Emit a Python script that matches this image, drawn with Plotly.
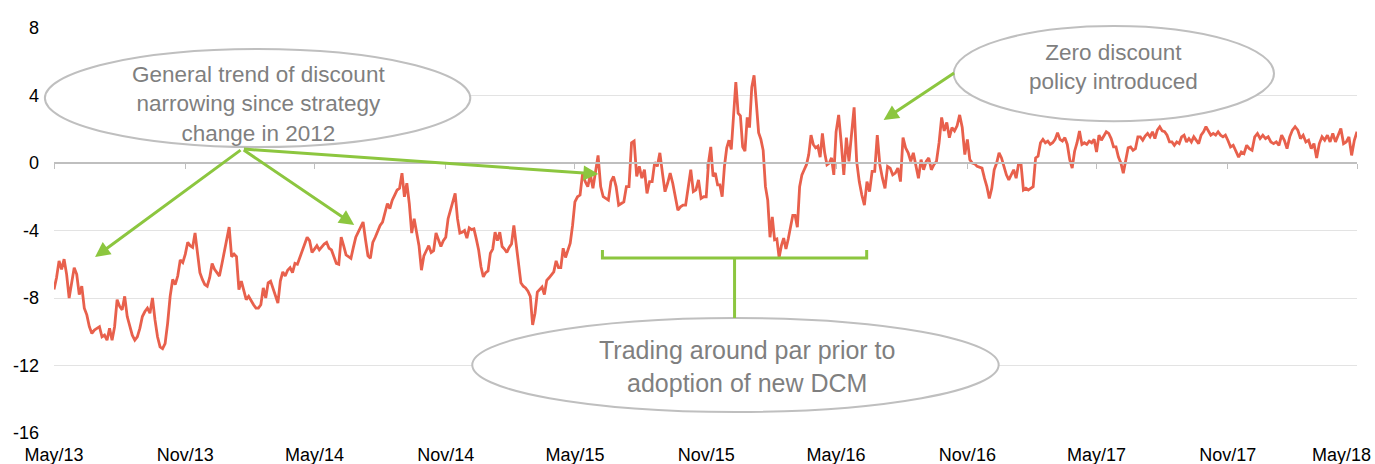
import pandas as pd
import plotly.graph_objects as go

# half-year boundaries shown on the x axis
TICK_DATES = ["2013-05-01", "2013-11-01", "2014-05-01", "2014-11-01", "2015-05-01",
              "2015-11-01", "2016-05-01", "2016-11-01", "2017-05-01", "2017-11-01",
              "2018-05-01"]
TICK_TEXT = ["May/13", "Nov/13", "May/14", "Nov/14", "May/15", "Nov/15",
             "May/16", "Nov/16", "May/17", "Nov/17", "May/18"]
Y_TICKS = [-16, -12, -8, -4, 0, 4, 8]
Y_TEXT = ["-16", "-12", "-8", "-4", "0", "4", "8"]

# premium / (discount) %, one list per half year
may13_nov13 = [-7.5, -6.8, -5.8, -6.3, -5.7, -6.6, -8.0, -7.0, -6.2, -6.6, -7.8, -7.3, -8.6,
               -9.0, -9.7, -10.1, -9.9, -9.8, -9.7, -10.3, -10.2, -10.5, -9.8, -10.5, -9.7,
               -8.1, -8.5, -8.7, -7.9, -9.1, -9.7, -10.2, -10.5, -10.3, -9.8, -9.1, -8.8,
               -8.6, -8.9, -8.0, -9.3, -10.3, -10.9, -11.0, -10.7, -9.5, -7.9, -6.9, -7.2,
               -6.7, -5.75, -5.9]
nov13_may14 = [-5.4, -4.7, -4.9, -5.0, -4.15, -5.2, -6.5, -6.9, -7.2, -7.3, -6.8, -5.95, -6.3,
               -6.5, -6.7, -6.0, -5.2, -4.4, -3.8, -5.55, -5.4, -5.55, -7.5, -7.0, -7.5, -8.1,
               -7.9, -8.2, -8.4, -8.6, -8.6, -8.4, -7.4, -8.0, -7.1, -7.0, -7.4, -7.9, -8.3,
               -7.0, -6.45, -6.7, -6.35, -6.2, -6.5, -5.95, -6.0, -5.6, -5.2, -4.8, -4.4,
               -4.6, -5.3]
may14_nov14 = [-5.1, -4.9, -5.15, -4.95, -4.8, -4.7, -5.05, -5.15, -5.5, -5.95, -6.0, -4.4,
               -4.9, -5.45, -5.55, -5.65, -5.0, -4.4, -4.1, -3.8, -3.5, -4.55, -5.5, -5.65,
               -4.7, -4.4, -4.0, -3.7, -3.5, -3.0, -2.4, -2.7, -2.2, -1.9, -1.6, -1.5, -0.6,
               -2.0, -1.2, -2.4, -4.15, -3.3, -4.15, -4.9, -6.35, -5.5, -5.2, -4.9, -5.3,
               -5.2, -4.15, -4.6, -4.95, -4.6]
nov14_may15 = [-4.4, -3.3, -2.8, -2.4, -1.8, -3.3, -4.15, -4.1, -4.0, -4.45, -3.85, -3.95,
               -3.9, -4.5, -5.15, -6.15, -6.75, -6.5, -6.4, -5.35, -5.1, -4.1, -4.6, -4.1,
               -4.95, -5.1, -5.3, -5.0, -4.8, -3.7, -4.8, -5.95, -7.1, -7.3, -7.4, -7.6, -7.9,
               -9.6, -8.9, -7.65, -7.5, -7.35, -7.8, -6.95, -6.8, -6.6, -6.45, -5.8, -6.2,
               -6.2, -5.05, -5.6, -5.2, -4.75, -3.7]
may15_nov15 = [-2.3, -2.0, -1.9, -0.6, -1.1, -1.4, -0.7, -1.5, -0.6, 0.45, -1.4, -2.0, -2.1,
               -2.2, -1.1, -0.8, -1.4, -2.5, -2.4, -2.3, -1.4, -1.4, 1.2, 1.3, -0.8, -0.2,
               -0.9, -0.4, -1.8, -1.1, -1.1, 0.05, -0.2, 0.6, -0.6, -1.7, -1.2, -0.6, -1.2,
               -2.0, -2.8, -2.6, -2.5, -2.5, -1.4, -0.4, -1.7, -1.6, -1.0, -2.1, -2.0]
nov15_may16 = [-2.0, 0.0, 0.95, -0.8, -0.6, -1.3, -1.3, -2.0, -0.2, 0.9, 1.35, 0.8, 3.1, 4.8,
               2.95, 2.8, 0.95, 0.7, 2.7, 2.1, 4.5, 5.2, 3.55, 1.8, 1.4, 0.75, -1.4, -2.2,
               -4.4, -3.2, -4.55, -4.5, -5.6, -4.9, -4.45, -5.1, -4.5, -3.8, -3.1, -3.1, -3.8,
               -1.4, -0.7, -0.4, -0.1, 0.5, 1.65, 1.1, 0.9, 1.0, 0.35, 1.75, 0.6, -0.1, 0.0,
               0.3, -0.7]
may16_nov16 = [1.85, 2.85, 1.2, -0.7, 1.5, 0.1, 1.7, 3.3, 0.1, -1.1, -1.9, -2.5, -1.1, -1.7,
               -0.5, -0.5, 1.65, -0.1, -0.9, -1.5, -0.2, -0.3, -0.7, -0.6, -0.3, -1.1, 1.5,
               0.9, 0.6, 0.1, 0.6, -0.2, -0.9, 0.2, -0.4, 0.1, 0.3, -0.4, -0.1, 0.1, 1.2, 2.7,
               1.9, 2.4, 1.5, 2.1, 1.9, 2.2, 2.85, 2.1, 0.5]
nov16_may17 = [1.4, 0.2, 0.0, -0.05, -0.2, -0.25, -0.3, -0.9, -1.4, -2.1, -1.5, -0.4, 0.0,
               0.6, 0.3, -0.2, -0.7, -1.0, -0.7, -0.4, -0.9, -0.05, -0.05, -1.6, -1.5, -1.6,
               -1.5, -1.4, 0.3, 0.4, 1.2, 1.4, 1.2, 1.3, 1.1, 1.2, 1.4, 1.8, 1.4, 1.3, 1.5,
               1.1, 0.2, -0.3, 0.7, 1.2, 1.9, 1.1, 1.2, 1.1, 1.3, 1.2, 1.4]
may17_nov17 = [0.65, 1.65, 1.35, 1.6, 1.85, 1.75, 1.45, 0.95, 0.95, 0.35, 0.0, -0.6, 0.2, 0.9,
               0.95, 0.75, 0.85, 1.55, 1.55, 1.35, 1.6, 1.75, 1.55, 1.85, 1.45, 1.95, 2.15,
               1.9, 1.85, 1.65, 1.25, 1.25, 1.05, 1.25, 1.15, 1.55, 1.65, 1.25, 1.45, 1.25,
               1.55, 1.35, 1.15, 1.65, 1.85, 2.15, 1.85, 1.65, 1.75, 1.65, 1.85, 1.65, 1.55,
               1.65]
nov17_may18 = [1.35, 0.95, 1.05, 0.65, 0.35, 0.65, 0.55, 1.05, 0.85, 0.75, 1.55, 1.75, 1.45,
               1.65, 1.45, 1.55, 1.25, 1.15, 1.25, 1.05, 1.65, 1.35, 0.85, 1.55, 1.95, 2.15,
               1.95, 1.45, 1.65, 1.25, 1.35, 0.85, 1.15, 0.3, 1.15, 1.55, 1.35, 1.65, 1.25,
               1.75, 1.25, 1.65, 2.05, 1.15, 1.25, 1.55, 0.45, 1.35, 1.85]

HALF_YEARS = [may13_nov13, nov13_may14, may14_nov14, nov14_may15, may15_nov15,
              nov15_may16, may16_nov16, nov16_may17, may17_nov17, nov17_may18]

LINE_RED = "#E8604C"
GREEN = "#8CC63F"
OUTLINE = "#BFBFBF"
NOTE_GREY = "#7F7F7F"
FONT = "Liberation Sans, Arial, sans-serif"

# spread each half year's readings evenly between its two tick dates
dates, values = [], []
for i, seg in enumerate(HALF_YEARS):
    last = i == len(HALF_YEARS) - 1
    stamps = pd.date_range(TICK_DATES[i], TICK_DATES[i + 1],
                           periods=len(seg) if last else len(seg) + 1)
    dates += list(stamps[:len(seg)])
    values += seg

fig = go.Figure()
fig.add_scatter(x=dates, y=values, mode="lines",
                line=dict(color=LINE_RED, width=2.8), hoverinfo="x+y", showlegend=False)
# empty trace so the label axis gets its own subplot
fig.add_scatter(x=[], y=[], xaxis="x2", showlegend=False, hoverinfo="skip")

shapes = [
    # speech ellipses
    dict(type="circle", xref="paper", yref="paper", x0=-0.007, x1=0.3195, y0=0.706, y1=0.948,
         line=dict(color=OUTLINE, width=2), fillcolor="white"),
    dict(type="circle", xref="paper", yref="paper", x0=0.6905, x1=0.9363, y0=0.770, y1=1.005,
         line=dict(color=OUTLINE, width=2), fillcolor="white"),
    dict(type="circle", xref="paper", yref="paper", x0=0.321, x1=0.725, y0=0.052, y1=0.284,
         line=dict(color=OUTLINE, width=2), fillcolor="white"),
    # bracket over the trading-around-par period
    dict(type="path", xref="paper", yref="paper",
         path="M0.4209,0.4519 L0.4209,0.4321 L0.6237,0.4321 L0.6237,0.4519",
         line=dict(color=GREEN, width=3)),
    dict(type="line", xref="paper", yref="paper", x0=0.5223, x1=0.5223, y0=0.4321, y1=0.284,
         line=dict(color=GREEN, width=3)),
]

notes = [
    ("General trend of discount<br>narrowing since strategy<br>change in 2012",
     0.1567, 0.812, 22.5),
    ("Zero discount<br>policy introduced", 0.8134, 0.9037, 22.5),
    ("Trading around par prior to<br>adoption of new DCM", 0.532, 0.1654, 25),
]
annotations = [
    dict(text=text, x=x, y=y, xref="paper", yref="paper", showarrow=False,
         xanchor="center", yanchor="middle", align="center",
         font=dict(family=FONT, size=size, color=NOTE_GREY))
    for text, x, y, size in notes
]
# last date label is pulled inside the picture, as in the original
annotations.append(dict(text=TICK_TEXT[-1], x=1.0125, y=-0.054, xref="paper", yref="paper",
                        showarrow=False, xanchor="right", yanchor="middle",
                        font=dict(family=FONT, size=18, color="black")))
arrows = [  # tip (paper) and tail offset (px)
    (0.0315, 0.4346, 147, -108),
    (0.2304, 0.5136, -112, -76),
    (0.4178, 0.6395, -356, -25),
    (0.6367, 0.7728, 72, -48),
]
for x, y, ax, ay in arrows:
    annotations.append(dict(x=x, y=y, xref="paper", yref="paper", ax=ax, ay=ay, text="",
                            showarrow=True, arrowhead=2, arrowsize=1, arrowwidth=3,
                            arrowcolor=GREEN, standoff=0))

fig.update_layout(
    template="none",
    width=1375,
    height=464,
    margin=dict(l=54, r=18, t=28, b=31),
    paper_bgcolor="white",
    plot_bgcolor="white",
    font=dict(family=FONT, size=18, color="black"),
    showlegend=False,
    shapes=shapes,
    annotations=annotations,
    xaxis=dict(
        type="date", range=[TICK_DATES[0], TICK_DATES[-1]],
        anchor="free", position=2 / 3,
        tickvals=TICK_DATES, showticklabels=False,
        ticks="outside", ticklen=5, tickwidth=1, tickcolor=OUTLINE,
        showline=True, linecolor=OUTLINE, linewidth=2,
        showgrid=False, zeroline=False, automargin=False,
    ),
    xaxis2=dict(
        type="date", range=[TICK_DATES[0], TICK_DATES[-1]],
        overlaying="x", anchor="y", side="bottom",
        tickvals=TICK_DATES[:-1], ticktext=TICK_TEXT[:-1], ticks="",
        ticklabelstandoff=9,
        showline=False, showgrid=False, zeroline=False, automargin=False,
    ),
    yaxis=dict(
        range=[-16, 8], tickvals=Y_TICKS, ticktext=Y_TEXT, ticks="",
        ticklabelstandoff=14,
        showgrid=True, gridcolor="#E3E3E3", gridwidth=1,
        showline=False, zeroline=False, automargin=False,
    ),
)

fig.write_html(
    "out.html",
    config={"displayModeBar": False},
    post_script="document.body.style.margin='0';document.body.style.overflow='hidden';",
)
